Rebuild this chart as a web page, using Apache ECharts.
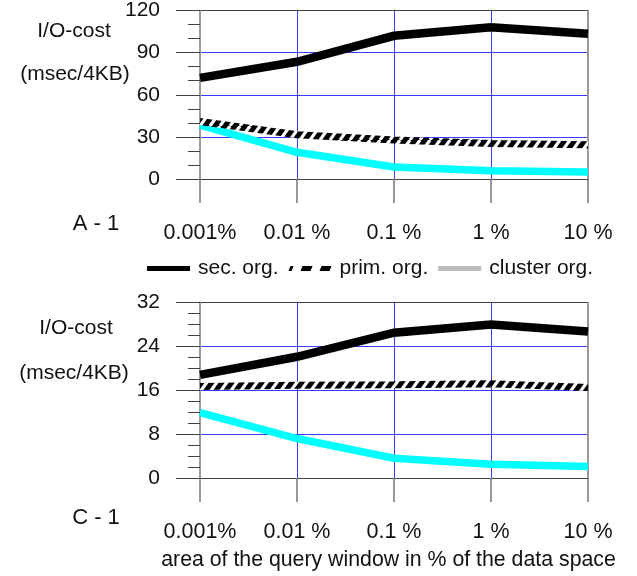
<!DOCTYPE html>
<html>
<head>
<meta charset="utf-8">
<script src="https://cdn.jsdelivr.net/npm/echarts@6/dist/echarts.min.js"></script>
<style>html,body{margin:0;padding:0;background:#fff}#c{width:637px;height:576px}</style>
</head>
<body>
<div id="c"></div>
<script>
// ---- data ----
const categories = ['0.001%', '0.01 %', '0.1 %', '1 %', '10 %'];
const seriesNames = ['sec. org.', 'prim. org.', 'cluster org.'];
// chart A - 1 (y: 0..120)
const a1Sec = [72, 83.5, 102, 108, 103.5];
const a1Prim = [41, 31.5, 27.7, 25.3, 24.4];
const a1Cluster = [38.4, 19, 8.6, 5.8, 4.9];
const a1Ticks = { min: 0, max: 120, interval: 30 };
// chart C - 1 (y: 0..32)
const c1Sec = [18.8, 22.1, 26.5, 28, 26.7];
const c1Prim = [16.7, 16.9, 17, 17.2, 16.5];
const c1Cluster = [11.9, 7.2, 3.6, 2.5, 2.1];
const c1Ticks = { min: 0, max: 32, interval: 8 };

const FONT = "'Liberation Sans', Arial, sans-serif";
const DARK = '#404040';
const BLUE = '#3a3aff';
const EDGE = '#9a9a9a';

function makeHatch() {
  const W = 10, H = 14;
  const c = document.createElement('canvas');
  c.width = W; c.height = H;
  const g = c.getContext('2d');
  g.fillStyle = '#000'; g.fillRect(0, 0, W, H);
  g.strokeStyle = '#fff'; g.lineWidth = 3.2;
  for (const a of [-W, 0, W]) {
    g.beginPath(); g.moveTo(a, H); g.lineTo(a + W, 0); g.stroke();
  }
  return { image: c, repeat: 'repeat' };
}
const hatch = makeHatch();

const grids = [
  { left: 200, right: 49, top: 7, height: 172 },
  { left: 200, right: 49, top: 302.5, height: 175.5 }
];

function xAxisFor(gi, withName) {
  const ax = {
    type: 'category', gridIndex: gi, data: categories, boundaryGap: false,
    axisLine: { show: true, lineStyle: { color: DARK, width: 1 } },
    axisTick: { show: true, length: 24, inside: false, lineStyle: { color: '#777', width: 1.5 } },
    axisLabel: { fontFamily: FONT, fontSize: 21.5, color: '#111', margin: 43, interval: 0 },
    splitLine: { show: true, lineStyle: { color: [EDGE, BLUE, BLUE, BLUE, EDGE], width: 1 } }
  };
  if (withName) {
    ax.name = 'area of the query window in % of the data space';
    ax.nameLocation = 'middle';
    ax.nameGap = 72;
    ax.nameTextStyle = { fontFamily: FONT, fontSize: 21.3, color: '#111', padding: [0, 11, 0, 0] };
  }
  return ax;
}
function yAxisFor(gi, t, minorSplit) {
  return {
    type: 'value', gridIndex: gi, min: t.min, max: t.max, interval: t.interval,
    axisLine: { show: true, lineStyle: { color: EDGE, width: 2 } },
    axisTick: { show: true, length: 24, lineStyle: { color: DARK, width: 1 } },
    minorTick: { show: true, splitNumber: minorSplit, length: 12, lineStyle: { color: DARK, width: 1 } },
    minorSplitLine: { show: false },
    axisLabel: { fontFamily: FONT, fontSize: 21, color: '#111', margin: 40, padding: [10, 0, 0, 0] },
    splitLine: { show: true, lineStyle: { color: [DARK, BLUE, BLUE, BLUE, DARK], width: 1 } }
  };
}
function rightEdge(gi, t) {
  return {
    type: 'value', gridIndex: gi, min: t.min, max: t.max, interval: t.interval, position: 'right',
    axisLine: { show: true, lineStyle: { color: EDGE, width: 2 } },
    axisTick: { show: false }, axisLabel: { show: false }, splitLine: { show: false }
  };
}

function seriesFor(gi, yi, sec, prim, cluster) {
  const base = { type: 'line', xAxisIndex: gi, yAxisIndex: yi, showSymbol: false, symbol: 'none', silent: true, animation: false };
  return [
    Object.assign({}, base, { name: seriesNames[2], data: cluster, z: 2, lineStyle: { color: '#00ffff', width: 7.5, cap: 'butt' }, itemStyle: { color: '#bbbbbb' } }),
    Object.assign({}, base, { name: seriesNames[1], data: prim, z: 3, lineStyle: { color: hatch, width: 7, cap: 'butt' }, itemStyle: { color: '#000' } }),
    Object.assign({}, base, { name: seriesNames[0], data: sec, z: 4, lineStyle: { color: '#000', width: 8.5, cap: 'butt', join: 'miter' }, itemStyle: { color: '#000' } })
  ];
}

function txt(x, y, s, size) {
  return { type: 'text', x: x, y: y, style: { text: s, fontFamily: FONT, fontSize: size || 21, fill: '#111', align: 'center', verticalAlign: 'middle' } };
}

const chart = echarts.init(document.getElementById('c'), null, { renderer: 'canvas' });
chart.setOption({
  animation: false,
  backgroundColor: '#fff',
  grid: grids,
  xAxis: [xAxisFor(0, false), xAxisFor(1, true)],
  yAxis: [yAxisFor(0, a1Ticks, 3), yAxisFor(1, c1Ticks, 4), rightEdge(0, a1Ticks), rightEdge(1, c1Ticks)],
  legend: {
    left: 147, top: 258, padding: 0, itemGap: 10, itemWidth: 43, itemHeight: 5,
    selectedMode: false,
    textStyle: { fontFamily: FONT, fontSize: 21, color: '#111', padding: [0, 0, 0, 3] },
    data: [
      { name: seriesNames[0], icon: 'rect', itemStyle: { color: '#000', borderWidth: 0 } },
      { name: seriesNames[1], icon: 'path://M0,5 L2,0 L5,0 L3,5 Z M12,5 L14,0 L24,0 L22,5 Z M31,5 L33,0 L43,0 L41,5 Z', itemStyle: { color: '#000', borderWidth: 0 } },
      { name: seriesNames[2], icon: 'rect', itemStyle: { color: '#bbbbbb', borderWidth: 0 } }
    ]
  },
  graphic: [
    txt(74, 31, 'I/O-cost'),
    txt(75, 74, '(msec/4KB)'),
    txt(96, 224, 'A - 1', 22),
    txt(76, 328, 'I/O-cost'),
    txt(74, 373, '(msec/4KB)'),
    txt(96, 518, 'C - 1', 22)
  ],
  series: [].concat(
    seriesFor(0, 0, a1Sec, a1Prim, a1Cluster),
    seriesFor(1, 1, c1Sec, c1Prim, c1Cluster)
  )
});
</script>
</body>
</html>
